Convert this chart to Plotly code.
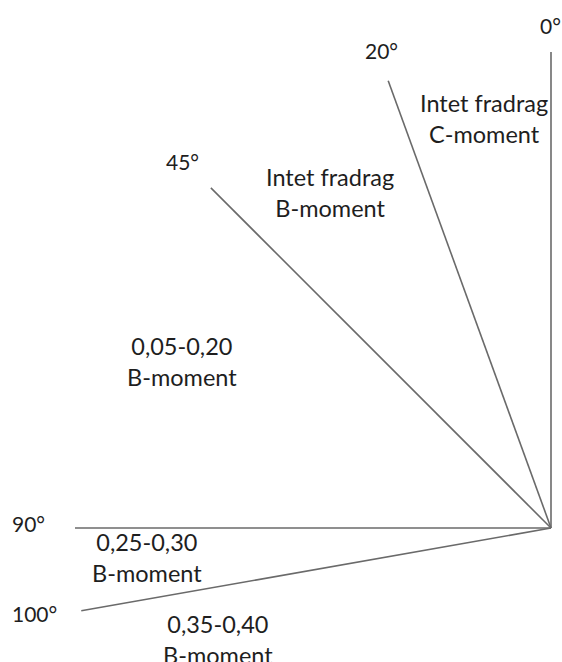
import numpy as np
import plotly.graph_objects as go

# Data: ray directions (degrees measured from vertical, counter-clockwise)
angles = [0, 20, 45, 90, 100]
angle_labels = ["0°", "20°", "45°", "90°", "100°"]
zone_labels = [
    "Intet fradrag<br>C-moment",
    "Intet fradrag<br>B-moment",
    "0,05-0,20<br>B-moment",
    "0,25-0,30<br>B-moment",
    "0,35-0,40<br>B-moment",
]

# Layout constants (pixel-like units relative to the common origin)
ray_len = [476, 476, 481, 476, 477]
angle_label_pos = [(-1, 503), (-170, 478), (-369, 367), (-523, 5), (-517, -85)]
zone_label_pos = [(-67, 410), (-221, 336), (-369, 167), (-404, -29), (-333, -111)]

FONT = "Lato"
TXT = "#1e1e1e"
LINE = "#6a6a6a"

fig = go.Figure()
for a, L in zip(angles, ray_len):
    t = np.deg2rad(a)
    fig.add_trace(go.Scatter(
        x=[0, -L * np.sin(t)], y=[0, L * np.cos(t)],
        mode="lines", line=dict(color=LINE, width=1.6),
        hoverinfo="skip", showlegend=False,
    ))

annotations = []
for lab, (x, y) in zip(angle_labels, angle_label_pos):
    annotations.append(dict(x=x, y=y, text=lab, showarrow=False,
                            xanchor="center", yanchor="middle",
                            font=dict(family=FONT, size=21, color=TXT)))
for lab, (x, y) in zip(zone_labels, zone_label_pos):
    annotations.append(dict(x=x, y=y, text=lab, showarrow=False,
                            xanchor="center", yanchor="middle",
                            font=dict(family=FONT, size=23.5, color=TXT)))

fig.update_layout(
    width=562, height=662,
    margin=dict(l=0, r=0, t=0, b=0),
    paper_bgcolor="white", plot_bgcolor="white",
    xaxis=dict(range=[-551, 11], visible=False, fixedrange=True),
    yaxis=dict(range=[-134, 528], visible=False, fixedrange=True),
    annotations=annotations,
)

fig.write_html(
    "out.html",
    config={"displayModeBar": False},
    post_script="document.body.style.margin='0';document.body.style.overflow='hidden';",
)
